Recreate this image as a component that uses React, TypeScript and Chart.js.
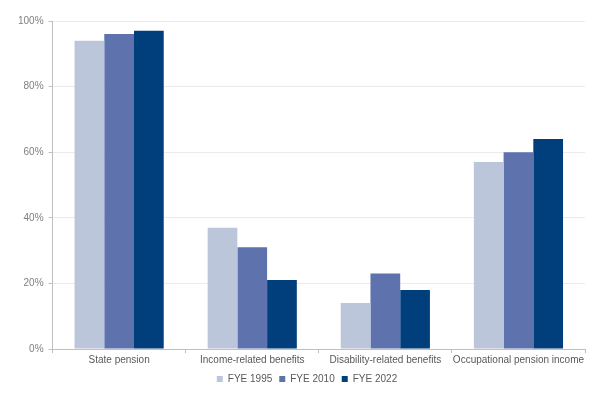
import React, { useEffect, useRef } from "react";
import { Chart, registerables } from "chart.js";

Chart.register(...registerables);

const categories = [
  "State pension",
  "Income-related benefits",
  "Disability-related benefits",
  "Occupational pension income",
];
const seriesNames = ["FYE 1995", "FYE 2010", "FYE 2022"];
const fye1995 = [94, 37, 14, 57];
const fye2010 = [96, 31, 23, 60];
const fye2022 = [97, 21, 18, 64];
const colors = ["#BCC6DA", "#5E73AE", "#003F7B"];

const FONT = "'Liberation Sans', Arial, sans-serif";

const legendShift = {
  id: "legendShift",
  afterLayout(chart: any) {
    if (chart.legend) {
      chart.legend.left += 8;
      chart.legend.right += 8;
    }
  },
};

export default function App() {
  const ref = useRef<HTMLCanvasElement>(null);
  useEffect(() => {
    if (!ref.current) return;
    const values = [fye1995, fye2010, fye2022];
    const chart = new Chart(ref.current, {
      type: "bar",
      data: {
        labels: categories,
        datasets: seriesNames.map((n, i) => ({
          label: n,
          data: values[i],
          backgroundColor: colors[i],
          borderWidth: 0,
          barPercentage: 1,
          categoryPercentage: 0.67,
        })),
      },
      plugins: [legendShift],
      options: {
        animation: false,
        responsive: false,
        maintainAspectRatio: false,
        layout: { padding: { left: 13, right: 17, top: 21, bottom: 2 } },
        plugins: {
          legend: {
            position: "bottom",
            labels: {
              boxWidth: 6,
              boxHeight: 6,
              padding: 7,
              color: "#595959",
              font: { family: FONT, size: 10 },
            },
          },
          tooltip: { enabled: false },
        },
        scales: {
          x: {
            grid: {
              offset: true,
              drawOnChartArea: false,
              drawTicks: true,
              tickLength: 4,
              color: "#BFBFBF",
            },
            border: { color: "#BFBFBF" },
            ticks: {
              color: "#595959",
              maxRotation: 0,
              autoSkip: false,
              padding: 1,
              font: { family: FONT, size: 10 },
            },
          },
          y: {
            min: 0,
            max: 100,
            ticks: {
              stepSize: 20,
              color: "#7F7F7F",
              padding: 5,
              callback: (v: any) => v + "%",
              font: { family: FONT, size: 10 },
            },
            grid: { color: "#EBEBEB", tickLength: 4, tickColor: "#BFBFBF" },
            border: { color: "#BFBFBF" },
          },
        },
      },
    });
    return () => chart.destroy();
  }, []);
  return (
    <div style={{ position: "fixed", left: 0, top: 0, width: 602, height: 396, background: "#fff" }}>
      <canvas ref={ref} width={602} height={396} style={{ display: "block" }} />
    </div>
  );
}
